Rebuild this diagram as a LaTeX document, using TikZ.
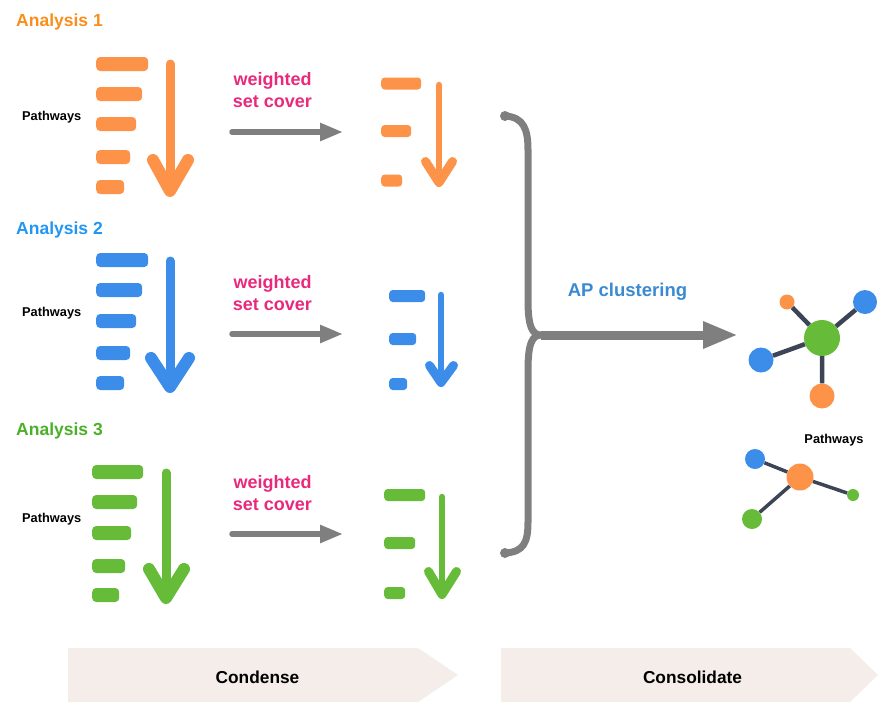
\documentclass[tikz,border=0pt]{standalone}
\usepackage{fontspec}
\setmainfont{Liberation Sans}
\usetikzlibrary{arrows.meta}
\definecolor{obar}{HTML}{FD9249}
\definecolor{otxt}{HTML}{F98E1D}
\definecolor{bbar}{HTML}{3C8DEA}
\definecolor{btxt}{HTML}{2196F3}
\definecolor{gbar}{HTML}{66BB38}
\definecolor{gtxt}{HTML}{4CAF2A}
\definecolor{mag}{HTML}{E92A7C}
\definecolor{gry}{HTML}{7F7F7F}
\definecolor{band}{HTML}{F4EDEA}
\definecolor{aptxt}{HTML}{3A8AD2}
\definecolor{edge}{HTML}{3C4455}
\begin{document}
\begin{tikzpicture}[x=1pt,y=-1pt,
  bar/.style={rectangle, rounded corners=4pt, minimum height=14pt, inner sep=0pt, anchor=west},
  sbar/.style={rectangle, rounded corners=3.5pt, minimum height=12pt, inner sep=0pt, anchor=west},
  title/.style={anchor=west, inner sep=0pt, font=\fontsize{17.5}{20}\selectfont\bfseries},
  pw/.style={inner sep=0pt, font=\fontsize{12.8}{15}\selectfont\bfseries},
  wsc/.style={text=mag, align=center, font=\fontsize{18}{22}\selectfont\bfseries},
  shaft/.style={line width=9pt, line cap=round},
  chev/.style={line width=12pt, line cap=round, line join=round},
  sshaft/.style={line width=6.5pt, line cap=round},
  schev/.style={line width=9pt, line cap=round, line join=round},
  greyarrow/.style={gry, line width=5.5pt, line cap=round, -{Triangle[length=23pt,width=17pt]}},
  dot/.style={circle, inner sep=0pt},
  bandtxt/.style={font=\fontsize{17.3}{20}\selectfont\bfseries}
]
\useasboundingbox (0,0) rectangle (878,702);

% ---------- Analysis 1 ----------
\node[title, text=otxt] (t1) at (16,22) {Analysis 1};
\node[pw, anchor=west] (p1) at (22,117) {Pathways};
\node[bar, fill=obar, minimum width=52pt] (a11) at (96,64) {};
\node[bar, fill=obar, minimum width=46pt] (a12) at (96,94) {};
\node[bar, fill=obar, minimum width=40pt] (a13) at (96,124) {};
\node[bar, fill=obar, minimum width=34pt] (a14) at (96,157) {};
\node[bar, fill=obar, minimum width=28pt] (a15) at (96,187) {};
\draw[shaft, obar] (170,64) -- (170,190);
\draw[chev, obar] (153,160) -- (170,191) -- (188,160);
\node[wsc] (w1) at (272.5,90) {weighted\\set cover};
\coordinate (g1s) at (232,132);
\coordinate (g1e) at (343,132);
\draw[greyarrow] (g1s) -- (g1e);
\node[sbar, fill=obar, minimum width=40pt] (c11) at (381,83.5) {};
\node[sbar, fill=obar, minimum width=30pt] (c12) at (381,131) {};
\node[sbar, fill=obar, minimum width=21pt] (c13) at (381,180.5) {};
\draw[sshaft, obar] (439,85) -- (439,182);
\draw[schev, obar] (425.5,161.5) -- (439,182.5) -- (452.5,161.5);

% ---------- Analysis 2 ----------
\node[title, text=btxt] (t2) at (16,230) {Analysis 2};
\node[pw, anchor=west] (p2) at (22,313) {Pathways};
\node[bar, fill=bbar, minimum width=52pt] (a21) at (96,260) {};
\node[bar, fill=bbar, minimum width=46pt] (a22) at (96,290) {};
\node[bar, fill=bbar, minimum width=40pt] (a23) at (96,321) {};
\node[bar, fill=bbar, minimum width=34pt] (a24) at (96,353) {};
\node[bar, fill=bbar, minimum width=28pt] (a25) at (96,383) {};
\draw[shaft, bbar] (170,261) -- (170,386);
\draw[chev, bbar] (151,358) -- (170,387) -- (189,358);
\node[wsc] (w2) at (272.5,293) {weighted\\set cover};
\coordinate (g2s) at (232,334);
\coordinate (g2e) at (343,334);
\draw[greyarrow] (g2s) -- (g2e);
\node[sbar, fill=bbar, minimum width=36pt] (c21) at (389,296) {};
\node[sbar, fill=bbar, minimum width=27pt] (c22) at (389,339) {};
\node[sbar, fill=bbar, minimum width=18pt] (c23) at (389,384) {};
\draw[sshaft, bbar] (441,295) -- (441,382);
\draw[schev, bbar] (429.5,365.5) -- (441,382.5) -- (453.5,365.5);

% ---------- Analysis 3 ----------
\node[title, text=gtxt] (t3) at (16,431) {Analysis 3};
\node[pw, anchor=west] (p3) at (22,519) {Pathways};
\node[bar, fill=gbar, minimum width=51pt] (a31) at (92,472) {};
\node[bar, fill=gbar, minimum width=45pt] (a32) at (92,502) {};
\node[bar, fill=gbar, minimum width=39pt] (a33) at (92,533) {};
\node[bar, fill=gbar, minimum width=33pt] (a34) at (92,566) {};
\node[bar, fill=gbar, minimum width=27pt] (a35) at (92,595) {};
\draw[shaft, gbar] (166,473) -- (166,597);
\draw[chev, gbar] (149,569) -- (166,598) -- (184,569);
\node[wsc] (w3) at (272.5,493) {weighted\\set cover};
\coordinate (g3s) at (232,534);
\coordinate (g3e) at (343,534);
\draw[greyarrow] (g3s) -- (g3e);
\node[sbar, fill=gbar, minimum width=41pt] (c31) at (384,495) {};
\node[sbar, fill=gbar, minimum width=31pt] (c32) at (384,543) {};
\node[sbar, fill=gbar, minimum width=21pt] (c33) at (384,593) {};
\draw[sshaft, gbar] (442,497) -- (442,594);
\draw[schev, gbar] (428.5,571.5) -- (442,594.5) -- (456.5,571.5);

% ---------- bracket and AP clustering ----------
\coordinate (btop) at (505,116);
\coordinate (bbot) at (505,553);
\coordinate (junc) at (541,335);
\coordinate (apend) at (738,335);
\draw[gry, line width=7pt, line cap=round]
  (btop) .. controls (524,117) and (528,130) .. (528,150) -- (528,300)
  .. controls (528,326) and (532,335) .. (junc)
  .. controls (532,335) and (528,344) .. (528,370) -- (528,522)
  .. controls (528,542) and (524,552) .. (bbot);
\fill[gry] (btop) circle (5pt) (bbot) circle (5pt);
\draw[gry, line width=9pt, -{Triangle[length=35pt,width=25pt]}] (junc) -- (apend);
\node[text=aptxt, font=\fontsize{18.5}{22}\selectfont\bfseries] (ap) at (627.5,292) {AP clustering};

% ---------- networks ----------
\node[dot, fill=gbar, minimum size=36pt] (n1c) at (822,338) {};
\node[dot, fill=obar, minimum size=15pt] (n1a) at (787,302) {};
\node[dot, fill=bbar, minimum size=24pt] (n1b) at (865,302) {};
\node[dot, fill=bbar, minimum size=25pt] (n1d) at (761,360) {};
\node[dot, fill=obar, minimum size=25pt] (n1e) at (822,396) {};
\draw[edge, line width=4.5pt] (n1c) -- (n1a) (n1c) -- (n1b) (n1c) -- (n1d) (n1c) -- (n1e);

\node[pw] (p4) at (834,440) {Pathways};
\node[dot, fill=obar, minimum size=27pt] (n2c) at (800,477) {};
\node[dot, fill=bbar, minimum size=20pt] (n2a) at (755,459) {};
\node[dot, fill=gbar, minimum size=12pt] (n2b) at (853,495) {};
\node[dot, fill=gbar, minimum size=20pt] (n2d) at (752,519) {};
\draw[edge, line width=3.5pt] (n2c) -- (n2a) (n2c) -- (n2b) (n2c) -- (n2d);

% ---------- bands ----------
\fill[band] (68,648) -- (418,648) -- (458,675) -- (418,702) -- (68,702) -- cycle;
\node[bandtxt] (cond) at (257.5,677) {Condense};
\fill[band] (501,648) -- (850,648) -- (878,675) -- (850,702) -- (501,702) -- cycle;
\node[bandtxt] (cons) at (692.5,677) {Consolidate};
\end{tikzpicture}
\end{document}
